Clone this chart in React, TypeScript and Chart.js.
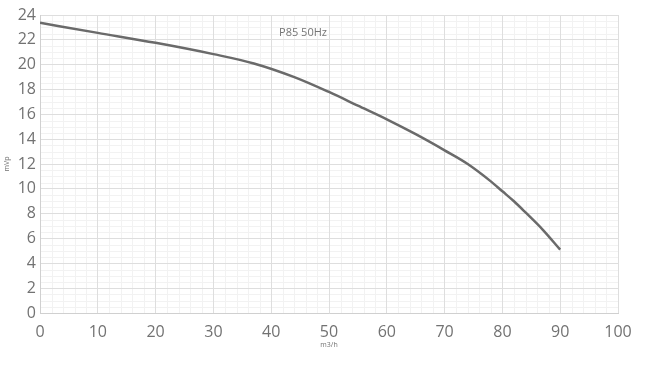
import React, { useEffect, useRef } from "react";
import { Chart, registerables } from "chart.js";
Chart.register(...registerables);

// Data
const flowRates = [0, 10, 20, 30, 37, 44, 50, 55, 60, 65, 70, 74, 78, 80, 82, 84, 87, 90];
const heads = [23.37, 22.56, 21.76, 20.85, 20.1, 19.0, 17.8, 16.7, 15.6, 14.4, 13.1, 12.0, 10.6, 9.8, 9.0, 8.1, 6.7, 5.1];
const xTickValues = [0, 10, 20, 30, 40, 50, 60, 70, 80, 90, 100];
const yTickValues = [0, 2, 4, 6, 8, 10, 12, 14, 16, 18, 20, 22, 24];
const chartTitle = "P85 50Hz";
const xAxisTitle = "m3/h";
const yAxisTitle = "mVp";

const FONT = "'Open Sans', 'Liberation Sans', sans-serif";

const minorGridPlugin = {
  id: "minorGrid",
  beforeDraw(chart: any) {
    const { ctx, chartArea, scales } = chart;
    const xs = scales.x;
    const ys = scales.y;
    ctx.save();
    ctx.strokeStyle = "#f2f2f2";
    ctx.lineWidth = 1;
    ctx.beginPath();
    for (let v = 0; v <= 100; v += 2) {
      if (v % 10 === 0) continue;
      const px = Math.round(xs.getPixelForValue(v)) + 0.5;
      ctx.moveTo(px, chartArea.top);
      ctx.lineTo(px, chartArea.bottom);
    }
    for (let v = 0; v <= 24; v += 0.5) {
      if (v % 2 === 0) continue;
      const py = Math.round(ys.getPixelForValue(v)) + 0.5;
      ctx.moveTo(chartArea.left, py);
      ctx.lineTo(chartArea.right, py);
    }
    ctx.stroke();
    ctx.restore();
  },
  afterDraw(chart: any) {
    const { ctx, scales } = chart;
    ctx.save();
    ctx.fillStyle = "#757575";
    ctx.font = `11px ${FONT}`;
    ctx.textAlign = "center";
    ctx.textBaseline = "middle";
    ctx.fillText(chartTitle, scales.x.getPixelForValue(45.5), scales.y.getPixelForValue(22.6));
    ctx.restore();
  },
};

export default function App() {
  const ref = useRef<HTMLCanvasElement | null>(null);
  useEffect(() => {
    if (!ref.current) return;
    const chart = new Chart(ref.current, {
      type: "line",
      data: {
        datasets: [
          {
            data: flowRates.map((x, i) => ({ x, y: heads[i] })),
            borderColor: "#6a6a6a",
            borderWidth: 2.5,
            pointRadius: 0,
            tension: 0.4,
            cubicInterpolationMode: "monotone",
            fill: false,
          },
        ],
      },
      options: {
        animation: false,
        responsive: false,
        maintainAspectRatio: false,
        layout: { padding: { top: 15, right: 40, left: 0, bottom: 0 } },
        plugins: { legend: { display: false }, tooltip: { enabled: false }, title: { display: false } },
        scales: {
          x: {
            type: "linear",
            min: 0,
            max: 100,
            afterBuildTicks: (s: any) => {
              s.ticks = xTickValues.map((value) => ({ value }));
            },
            afterFit: (s: any) => {
              s.height = 58;
            },
            grid: { color: "#dedede", drawTicks: false, lineWidth: 1 },
            border: { color: "#d0d0d0" },
            ticks: { color: "#727272", font: { family: FONT, size: 16 }, padding: 10, maxRotation: 0 },
            title: {
              display: true,
              text: xAxisTitle,
              color: "#727272",
              font: { family: FONT, size: 7 },
              padding: { top: 0, bottom: 22 },
            },
          },
          y: {
            type: "linear",
            min: 0,
            max: 24,
            afterBuildTicks: (s: any) => {
              s.ticks = yTickValues.map((value) => ({ value }));
            },
            afterFit: (s: any) => {
              s.width = 40;
            },
            grid: { color: "#dedede", drawTicks: false, lineWidth: 1 },
            border: { color: "#d0d0d0" },
            ticks: { color: "#727272", font: { family: FONT, size: 16 }, padding: 4 },
            title: {
              display: true,
              text: yAxisTitle,
              color: "#727272",
              font: { family: FONT, size: 7 },
              padding: { top: 3, bottom: 0 },
            },
          },
        },
      },
      plugins: [minorGridPlugin],
    } as any);
    return () => chart.destroy();
  }, []);
  return (
    <div style={{ position: "fixed", left: 0, top: 0, width: 658, height: 371, background: "#fff" }}>
      <canvas ref={ref} width={658} height={371} style={{ width: 658, height: 371 }} />
    </div>
  );
}
